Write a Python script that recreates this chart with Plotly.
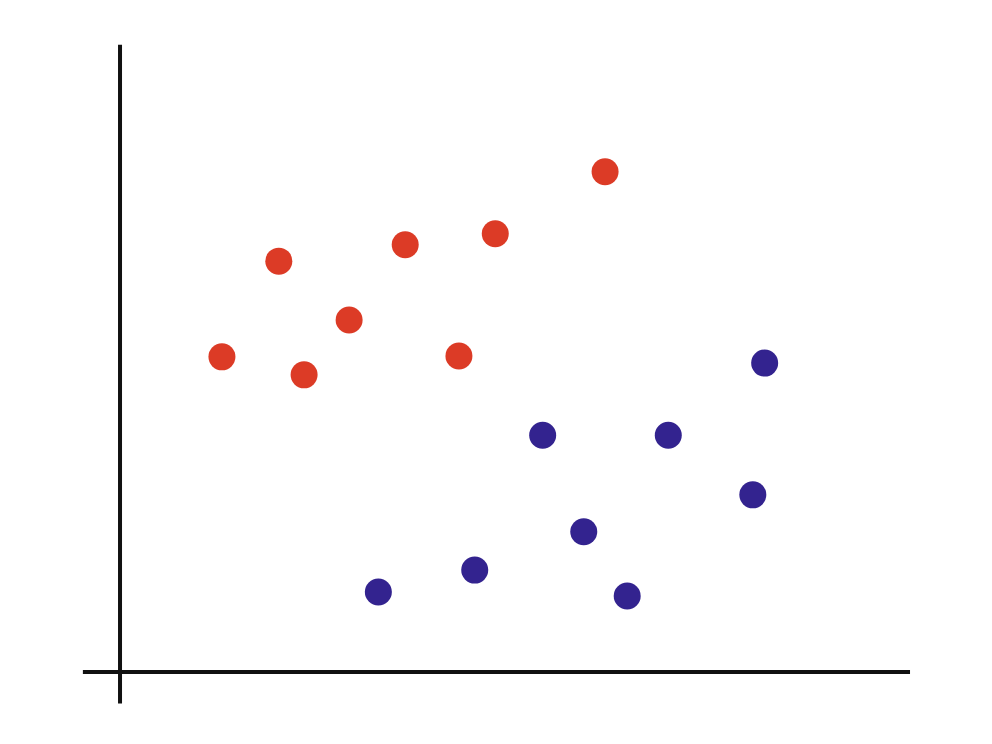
import plotly.graph_objects as go

# Data (x, y in chart units, origin at axis crossing)
red_x = [1.29, 2.01, 2.33, 2.90, 3.61, 4.29, 4.75, 6.14]
red_y = [4.02, 5.24, 3.79, 4.49, 5.45, 4.03, 5.59, 6.38]
blue_x = [3.27, 4.49, 5.35, 5.87, 6.42, 6.94, 8.01, 8.16]
blue_y = [1.02, 1.30, 3.02, 1.79, 0.97, 3.02, 2.26, 3.94]

fig = go.Figure()

fig.add_trace(go.Scatter(
    x=red_x, y=red_y, mode='markers',
    marker=dict(size=27, color='#DC3B26', line=dict(width=0)),
    showlegend=False
))
fig.add_trace(go.Scatter(
    x=blue_x, y=blue_y, mode='markers',
    marker=dict(size=27, color='#33238F', line=dict(width=0)),
    showlegend=False
))

# Hand-drawn style axes crossing slightly past the origin
axis_style = dict(color='#111111', width=4)
fig.add_shape(type='line', x0=-0.47, x1=10.0, y0=0, y1=0, line=axis_style, layer='below')
fig.add_shape(type='line', x0=0, x1=0, y0=-0.40, y1=8.0, line=axis_style, layer='below')

fig.update_layout(
    width=992, height=744,
    margin=dict(l=0, r=0, t=0, b=0),
    paper_bgcolor='white', plot_bgcolor='white'
)
# ranges offset to compensate for the page's 8px body margin
fig.update_xaxes(range=[-1.418, 11.139], visible=False)
fig.update_yaxes(range=[-1.020, 8.469], visible=False)

fig.write_html("out.html")
